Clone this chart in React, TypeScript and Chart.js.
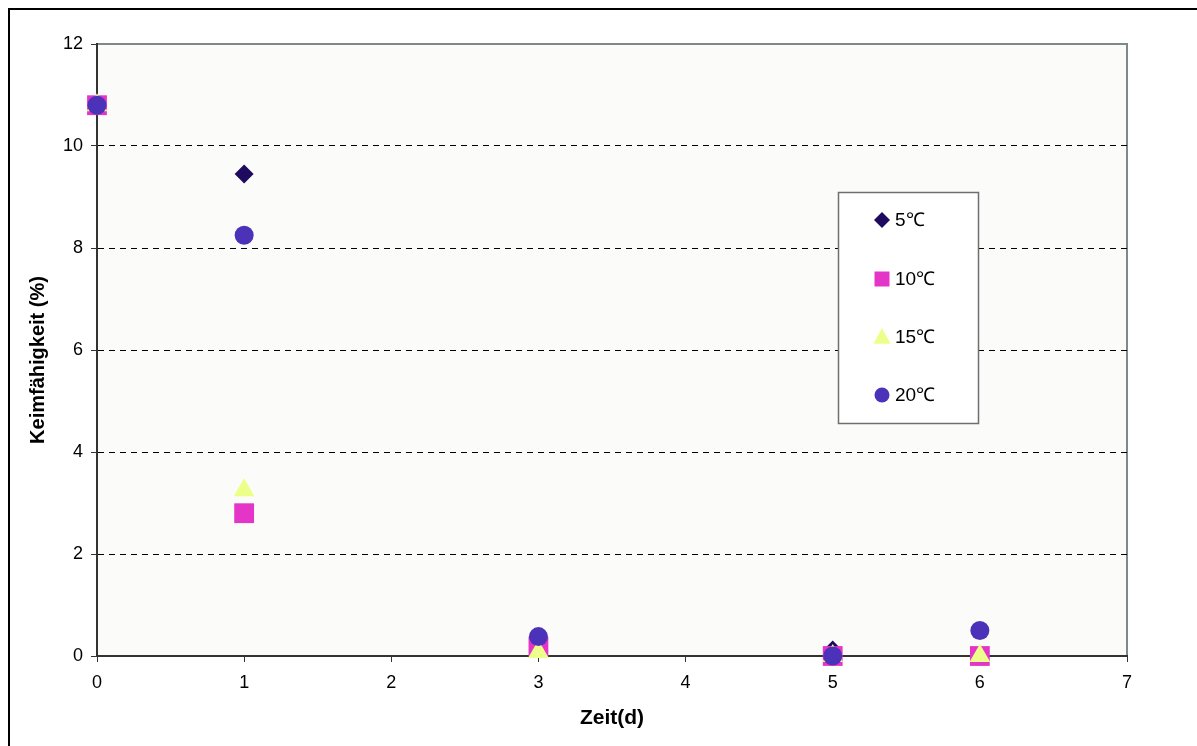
import React, { useEffect, useRef } from "react";
import { Chart, registerables } from "chart.js";

Chart.register(...registerables);

const days = [0, 1, 3, 5, 6];
const seriesLabels = ["5℃", "10℃", "15℃", "20℃"];
const values5 = [10.8, 9.45, 0.15, 0.12, 0];
const values10 = [10.8, 2.8, 0.18, 0, 0];
const values15 = [10.8, 3.25, 0.08, 0, 0];
const values20 = [10.8, 8.25, 0.38, 0, 0.5];
const yTicks = [0, 2, 4, 6, 8, 10, 12];
const xTicks = [0, 1, 2, 3, 4, 5, 6, 7];
const yTitle = "Keimfähigkeit (%)";
const xTitle = "Zeit(d)";

const colors = ["#1e0a5f", "#e535c8", "#ecff8a", "#4b32b8"];
const styles = ["rectRot", "rect", "triangle", "circle"];
const radii = [9.5, 14, 12, 9.5];
const FONT = "'Liberation Sans', Arial, sans-serif";

function drawMarker(ctx: CanvasRenderingContext2D, style: string, x: number, y: number, r: number, color: string) {
  ctx.save();
  ctx.fillStyle = color;
  ctx.beginPath();
  if (style === "rectRot") {
    ctx.moveTo(x, y - r);
    ctx.lineTo(x + r, y);
    ctx.lineTo(x, y + r);
    ctx.lineTo(x - r, y);
    ctx.closePath();
  } else if (style === "rect") {
    ctx.rect(x - r, y - r, 2 * r, 2 * r);
  } else if (style === "triangle") {
    ctx.moveTo(x, y - r);
    ctx.lineTo(x + r * 0.95, y + r * 0.75);
    ctx.lineTo(x - r * 0.95, y + r * 0.75);
    ctx.closePath();
  } else {
    ctx.arc(x, y, r, 0, Math.PI * 2);
  }
  ctx.fill();
  ctx.restore();
}

const plotFrame = {
  id: "plotFrame",
  beforeDraw(chart: any) {
    const { ctx, chartArea } = chart;
    ctx.save();
    ctx.fillStyle = "#fbfbf9";
    ctx.fillRect(chartArea.left, chartArea.top, chartArea.right - chartArea.left, chartArea.bottom - chartArea.top);
    ctx.strokeStyle = "#7d8a8a";
    ctx.lineWidth = 2;
    ctx.beginPath();
    ctx.moveTo(chartArea.left, chartArea.top);
    ctx.lineTo(chartArea.right, chartArea.top);
    ctx.lineTo(chartArea.right, chartArea.bottom);
    ctx.stroke();
    ctx.restore();
  },
  afterDraw(chart: any) {
    const { ctx } = chart;
    ctx.save();
    ctx.translate(38, 360);
    ctx.rotate(-Math.PI / 2);
    ctx.fillStyle = "#000";
    ctx.font = "bold 20px " + FONT;
    ctx.textAlign = "center";
    ctx.textBaseline = "middle";
    ctx.fillText(yTitle, 0, 0);
    ctx.restore();
  },
};

const boxLegend = {
  id: "boxLegend",
  afterDraw(chart: any) {
    const { ctx } = chart;
    const left = 838, top = 192, w = 140, h = 231;
    ctx.save();
    ctx.fillStyle = "#ffffff";
    ctx.fillRect(left, top, w, h);
    ctx.strokeStyle = "#6f6f6f";
    ctx.lineWidth = 1.5;
    ctx.strokeRect(left + 0.5, top + 0.5, w, h);
    const legendR = [8, 7.5, 9, 7.5];
    const ys = [220, 279, 337, 395];
    seriesLabels.forEach((lab, i) => {
      drawMarker(ctx, styles[i], 882, ys[i], legendR[i], colors[i]);
      ctx.fillStyle = "#000";
      ctx.font = "19px " + FONT;
      ctx.textBaseline = "middle";
      ctx.textAlign = "left";
      ctx.fillText(lab, 895, ys[i] + 1);
    });
    ctx.restore();
  },
};

export default function App() {
  const ref = useRef<HTMLCanvasElement | null>(null);
  useEffect(() => {
    if (!ref.current) return;
    const all = [values5, values10, values15, values20];
    const chart = new Chart(ref.current, {
      type: "scatter",
      data: {
        datasets: all.map((vals, i) => ({
          label: seriesLabels[i],
          data: days.map((d, j) => ({ x: d, y: vals[j] })),
          order: 3 - i,
          pointStyle: styles[i] as any,
          pointRadius: radii[i],
          pointHoverRadius: radii[i],
          backgroundColor: colors[i],
          borderColor: colors[i],
          borderWidth: 0,
          clip: false as any,
        })),
      },
      options: {
        responsive: false,
        animation: false,
        events: [],
        layout: { padding: { left: 0, right: 70, top: 44, bottom: 0 } },
        plugins: { legend: { display: false }, tooltip: { enabled: false } },
        scales: {
          x: {
            type: "linear",
            min: 0,
            max: 7,
            afterFit: (s: any) => { s.height = 90; },
            afterBuildTicks: (s: any) => { s.ticks = xTicks.map((v) => ({ value: v })); },
            ticks: { stepSize: 1, color: "#000", padding: 10, font: { size: 18, family: FONT } },
            grid: { drawOnChartArea: false, drawTicks: true, tickLength: 6, tickColor: "#333", tickWidth: 1 },
            border: { display: true, color: "#333", width: 2 },
            title: { display: true, text: xTitle, color: "#000", padding: { top: 0, bottom: 15 }, font: { size: 21, weight: "bold", family: FONT } },
          },
          y: {
            type: "linear",
            min: 0,
            max: 12,
            afterFit: (s: any) => { s.width = 97; },
            afterBuildTicks: (s: any) => { s.ticks = yTicks.map((v) => ({ value: v })); },
            ticks: { stepSize: 2, color: "#000", padding: 8, font: { size: 18, family: FONT } },
            grid: {
              drawOnChartArea: true,
              drawTicks: true,
              tickLength: 6,
              tickColor: "#333",
              tickWidth: 1,
              tickBorderDash: [],
              lineWidth: 1,
              color: (c: any) => (c.tick && (c.tick.value === 0 || c.tick.value === 12) ? "rgba(0,0,0,0)" : "#000"),
              borderDash: [6, 5],
            } as any,
            border: { display: true, color: "#333", width: 2, dash: [6, 5] },
            title: { display: false },
          },
        },
      },
      plugins: [plotFrame, boxLegend],
    });
    return () => chart.destroy();
  }, []);
  return (
    <div style={{ position: "absolute", left: 0, top: 0, width: 1197, height: 746, overflow: "hidden", background: "#fff" }}>
      <div style={{ position: "absolute", left: 8, top: 8, width: 1189, height: 738, borderTop: "2px solid #000", borderLeft: "2px solid #000", boxSizing: "border-box" }} />
      <canvas ref={ref} width={1197} height={746} style={{ position: "absolute", left: 0, top: 0 }} />
    </div>
  );
}
